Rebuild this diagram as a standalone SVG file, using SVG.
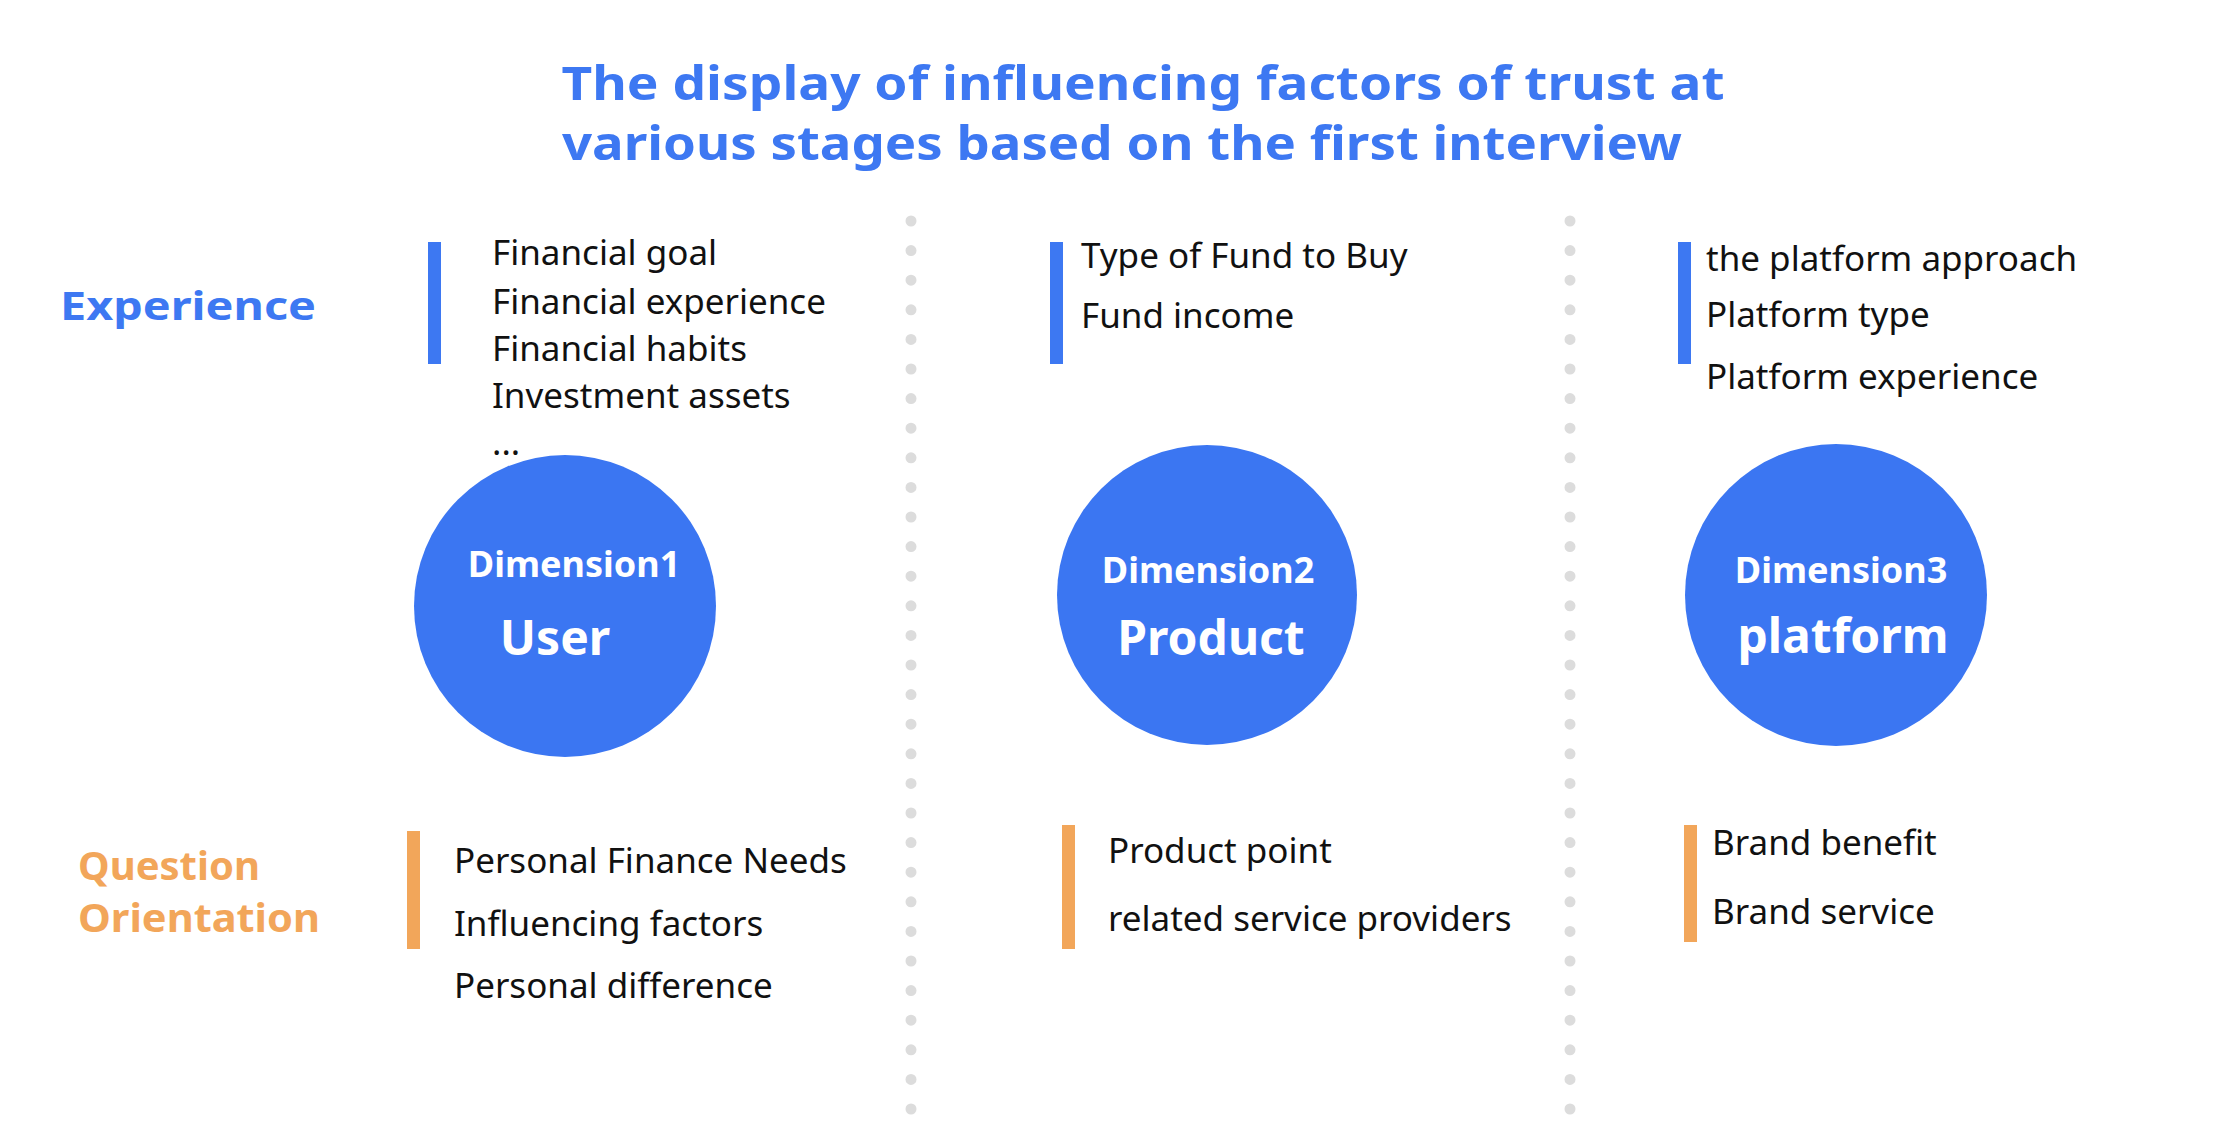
<svg xmlns="http://www.w3.org/2000/svg" width="2220" height="1148" viewBox="0 0 2220 1148">
<style>
.t{font-family:"Noto Sans","Open Sans",sans-serif;}
.title{font-size:46px;font-weight:bold;fill:#3D78F2;text-anchor:middle}
.lab{font-size:40px;font-weight:bold}
.item{font-size:35px;fill:#111}
.dim{font-size:36px;font-weight:bold;fill:#fff;text-anchor:middle}
.big{font-size:48px;font-weight:bold;fill:#fff;text-anchor:middle}
.circ{fill:#3B76F2}
.bb{fill:#3D78F2}.ob{fill:#F2A65A}
.dots{stroke:#DCDCDC;stroke-width:11;stroke-linecap:round;stroke-dasharray:0 29.6}
</style>
<rect width="2220" height="1148" fill="#fff"/>
<g id="title" class="t">
<text class="title" x="1143" y="100" textLength="1163" lengthAdjust="spacingAndGlyphs">The display of influencing factors of trust at</text>
<text class="title" x="1122" y="160" textLength="1120" lengthAdjust="spacingAndGlyphs">various stages based on the first interview</text>
</g>
<g id="connectors">
<line class="dots" x1="911" y1="221" x2="911" y2="1112"/>
<line class="dots" x1="1570" y1="221" x2="1570" y2="1112"/>
</g>
<g id="row-labels" class="t">
<text class="lab" x="60" y="320" fill="#3D78F2" textLength="256" lengthAdjust="spacingAndGlyphs">Experience</text>
<text class="lab" x="78" y="880" fill="#F2A65A">Question</text>
<text class="lab" x="78" y="932" fill="#F2A65A" textLength="242" lengthAdjust="spacingAndGlyphs">Orientation</text>
</g>
<g id="user-exp" class="t">
<rect class="bb" x="428" y="242" width="13" height="122"/>
<text class="item" x="492" y="265">Financial goal</text>
<text class="item" x="492" y="314">Financial experience</text>
<text class="item" x="492" y="361">Financial habits</text>
<text class="item" x="492" y="408">Investment assets</text>
<text class="item" x="492" y="455">...</text>
</g>
<g id="product-exp" class="t">
<rect class="bb" x="1050" y="242" width="13" height="122"/>
<text class="item" x="1081" y="268">Type of Fund to Buy</text>
<text class="item" x="1081" y="328">Fund income</text>
</g>
<g id="platform-exp" class="t">
<rect class="bb" x="1678" y="242" width="13" height="122"/>
<text class="item" x="1706" y="271">the platform approach</text>
<text class="item" x="1706" y="327">Platform type</text>
<text class="item" x="1706" y="389">Platform experience</text>
</g>
<g id="dim1" class="t">
<circle class="circ" cx="565" cy="606" r="151"/>
<text class="dim" x="574" y="577">Dimension1</text>
<text class="big" x="555" y="655">User</text>
</g>
<g id="dim2" class="t">
<circle class="circ" cx="1207" cy="595" r="150"/>
<text class="dim" x="1208" y="583">Dimension2</text>
<text class="big" x="1211" y="655">Product</text>
</g>
<g id="dim3" class="t">
<circle class="circ" cx="1836" cy="595" r="151"/>
<text class="dim" x="1841" y="583">Dimension3</text>
<text class="big" x="1843" y="653">platform</text>
</g>
<g id="user-q" class="t">
<rect class="ob" x="407" y="831" width="13" height="118"/>
<text class="item" x="454" y="873">Personal Finance Needs</text>
<text class="item" x="454" y="936">Influencing factors</text>
<text class="item" x="454" y="998">Personal difference</text>
</g>
<g id="product-q" class="t">
<rect class="ob" x="1062" y="825" width="13" height="124"/>
<text class="item" x="1108" y="863">Product point</text>
<text class="item" x="1108" y="931">related service providers</text>
</g>
<g id="platform-q" class="t">
<rect class="ob" x="1684" y="825" width="13" height="117"/>
<text class="item" x="1712" y="855">Brand benefit</text>
<text class="item" x="1712" y="924">Brand service</text>
</g>
</svg>
